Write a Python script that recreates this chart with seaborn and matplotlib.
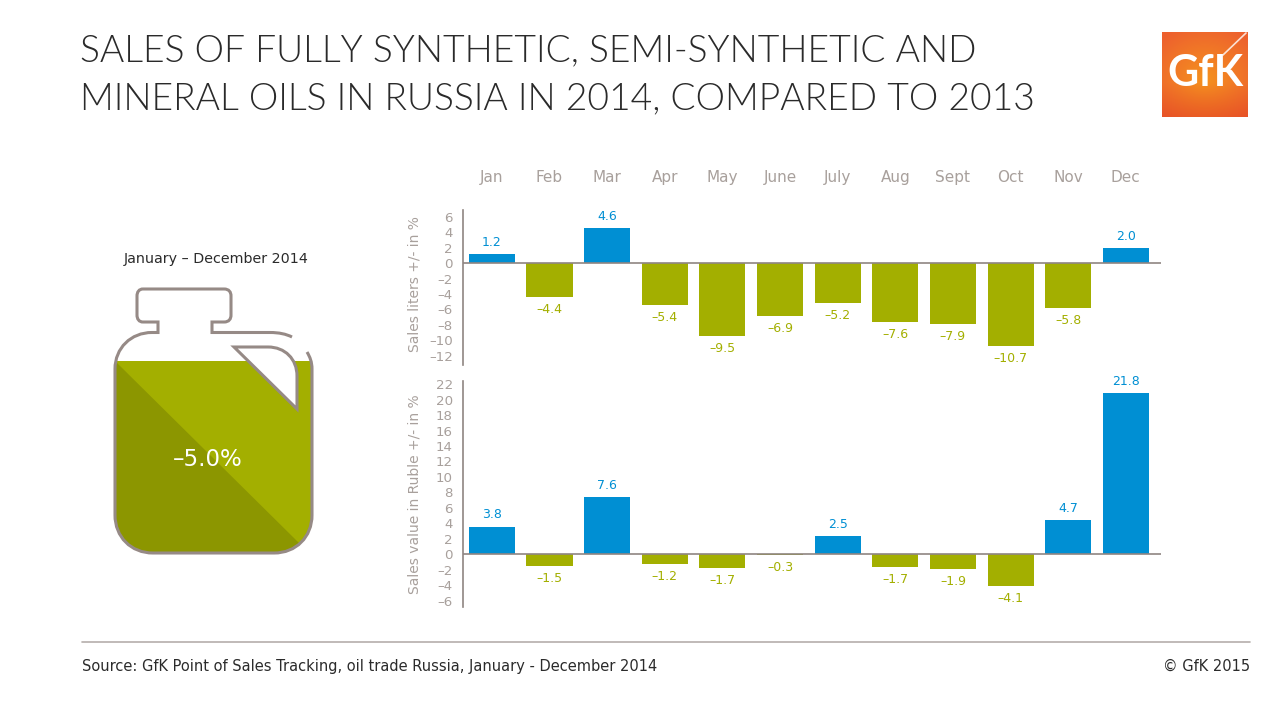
import numpy as np
import matplotlib
matplotlib.use('Agg')
import matplotlib.pyplot as plt
import pandas as pd
import seaborn as sns
from matplotlib.patches import PathPatch, Polygon
from matplotlib.path import Path

months = ['Jan', 'Feb', 'Mar', 'Apr', 'May', 'June', 'July', 'Aug', 'Sept', 'Oct', 'Nov', 'Dec']
liters = [1.2, -4.4, 4.6, -5.4, -9.5, -6.9, -5.2, -7.6, -7.9, -10.7, -5.8, 2.0]
ruble = [3.8, -1.5, 7.6, -1.2, -1.7, -0.3, 2.5, -1.7, -1.9, -4.1, 4.7, 21.8]
# printed labels and bar lengths differ in the source chart (Dec most of all)
ruble_heights = [3.6, -1.5, 7.4, -1.2, -1.7, -0.1, 2.4, -1.6, -1.9, -4.1, 4.5, 20.9]
liter_ticks = list(range(-12, 7, 2))
ruble_ticks = list(range(-6, 23, 2))

BLUE = '#008FD3'
GREEN = '#A3AF00'
DARK_GREEN = '#8C9600'
AXIS = '#8F8582'
TICK_TXT = '#A8A09C'
TEXT = '#2B2B2B'

sns.set_theme(style='white')
plt.rcParams['font.family'] = ['DejaVu Sans']

fig = plt.figure(figsize=(12.8, 7.2), dpi=100)


def px_axes(left, top, right, bottom):
    return fig.add_axes([left / 1280, 1 - bottom / 720, (right - left) / 1280, (bottom - top) / 720])


def bars(ax, heights, labels, ticks, ylim, ylabel, label_y):
    df = pd.DataFrame({'month': months, 'h': heights, 'sign': ['up' if v > 0 else 'down' for v in labels]})
    sns.barplot(data=df, x='month', y='h', hue='sign', palette={'up': BLUE, 'down': GREEN},
                order=months, dodge=False, width=0.8, legend=False, saturation=1, linewidth=0, ax=ax)
    ax.set_xlim(-0.5, 11.61)
    ax.set_ylim(*ylim)
    for i, (h, v) in enumerate(zip(heights, labels)):
        ax.annotate(f'{abs(v):.1f}' if v > 0 else f'–{abs(v):.1f}', (i, h),
                    xytext=(0, 8.3 if v > 0 else -9), textcoords='offset points',
                    ha='center', va='center', fontsize=9,
                    color=BLUE if v > 0 else GREEN)
    ax.set_yticks(ticks)
    ax.set_yticklabels([str(t) if t >= 0 else f'–{abs(t)}' for t in ticks])
    ax.tick_params(axis='y', length=4.3, width=1, color=AXIS, labelcolor=TICK_TXT, labelsize=9.6, pad=3)
    ax.set_xlabel('')
    ax.set_ylabel(ylabel, color=TICK_TXT, fontsize=10)
    ax.yaxis.set_label_coords(-42 / 698, label_y)
    for s in ['top', 'right', 'bottom']:
        ax.spines[s].set_visible(False)
    ax.spines['left'].set_color(AXIS)
    ax.spines['left'].set_linewidth(1.2)
    ax.axhline(0, color=AXIS, lw=1.2, zorder=5)
    ax.patch.set_alpha(0)


ax1 = px_axes(463, 210, 1161, 365)
bars(ax1, liters, liters, liter_ticks, (-13.2, 6.88), 'Sales liters +/- in %', 0.52)
ax1.xaxis.tick_top()
ax1.tick_params(axis='x', length=0, labelsize=11, labelcolor=TICK_TXT, pad=18)

ax2 = px_axes(463, 381, 1161, 607)
bars(ax2, ruble_heights, ruble, ruble_ticks, (-6.8, 22.4), 'Sales value in Ruble +/- in %', 0.5)
ax2.set_xticks([])

# page furniture in pixel coordinates
bg = fig.add_axes([0, 0, 1, 1], zorder=-1)
bg.axis('off')

title_font = dict(fontsize=26.8, family='Lato', weight=300, color='#2A2A2A', va='center')
bg.text(80, 51, 'SALES OF FULLY SYNTHETIC, SEMI-SYNTHETIC AND', **title_font)
bg.text(80, 99, 'MINERAL OILS IN RUSSIA IN 2014, COMPARED TO 2013', **title_font)
bg.plot([82, 1250], [641.5, 641.5], color='#B5AEAB', lw=1.2)
bg.text(82, 666, 'Source: GfK Point of Sales Tracking, oil trade Russia, January - December 2014',
        fontsize=10.5, color=TEXT, va='center')
bg.text(1250, 666, '© GfK 2015', fontsize=10.5, color=TEXT, va='center', ha='right')
bg.text(216, 259, 'January – December 2014', fontsize=10.3, color=TEXT, va='center', ha='center')

# jug
M, L, C = Path.MOVETO, Path.LINETO, Path.CURVE4
body = Path([(115, 361), (312, 361), (312, 515), (312, 537), (296, 553), (274, 553), (153, 553),
             (131, 553), (115, 537), (115, 515), (115, 361)],
            [M, L, L, C, C, C, L, C, C, C, L])
base = PathPatch(body, fc=GREEN, ec='none', zorder=2)
bg.add_patch(base)
dark = Polygon([(115, 361), (299, 543), (299, 560), (110, 560)], fc=DARK_GREEN, ec='none', zorder=3)
bg.add_patch(dark)
dark.set_clip_path(base)

outline = Path([(292, 337), (286, 334), (279, 332.5), (270, 332.5), (212, 332.5), (212, 322), (224, 322),
                (229, 322), (231, 319), (231, 315), (231, 296), (231, 292), (229, 289), (224, 289),
                (143, 289), (139, 289), (137, 292), (137, 296), (137, 315), (137, 319), (139, 322),
                (143, 322), (158, 322), (158, 332.5), (152, 332.5), (131, 332.5), (115, 348), (115, 369),
                (115, 515), (115, 537), (131, 553), (153, 553), (274, 553), (296, 553), (312, 537), (312, 515),
                (312, 369), (312, 362), (310, 357), (307, 352)],
               [M, C, C, C, L, L, L, C, C, C, L, C, C, C, L, C, C, C, L, C, C, C, L, L, L, C, C, C,
                L, C, C, C, L, C, C, C, L, C, C, C])
bg.add_patch(PathPatch(outline, fc='none', ec='#968A86', lw=2.2, zorder=5, capstyle='butt'))
spout = Path([(234, 347), (268, 347), (285, 347), (297, 359), (297, 376), (297, 409), (234, 347)],
             [M, L, C, C, C, L, Path.CLOSEPOLY])
bg.add_patch(PathPatch(spout, fc='white', ec='#968A86', lw=2.2, zorder=5, joinstyle='miter'))
bg.text(208, 460, '–5.0%', color='white', fontsize=16.5, ha='center', va='center', zorder=6)

# logo
yy, xx = np.mgrid[0:1:86j, 0:1:86j]
glow = np.clip(np.hypot(xx - 0.5, (yy - 0.55) * 1.1) / 0.72, 0, 1)
shade = np.clip(yy - 0.6, 0, 1)[..., None] * 0.9
logo_from = np.array([0.96, 0.57, 0.12])
logo_to = np.array([0.93, 0.38, 0.18])
logo = logo_from + (logo_to - logo_from) * glow[..., None]
logo = logo * (1 - shade) + np.array([0.87, 0.22, 0.11]) * shade
bg.imshow(logo, extent=(1162, 1248, 117, 32), zorder=2, aspect='auto')
bg.plot([1223, 1246], [55, 33], color='white', lw=1.2, alpha=0.8, zorder=3)
bg.text(1205, 73, 'GfK', color='white', fontsize=31, family='Lato', weight='bold', ha='center', va='center', zorder=4)

bg.set_xlim(0, 1280)
bg.set_ylim(720, 0)

fig.savefig('out.png', dpi=100)
